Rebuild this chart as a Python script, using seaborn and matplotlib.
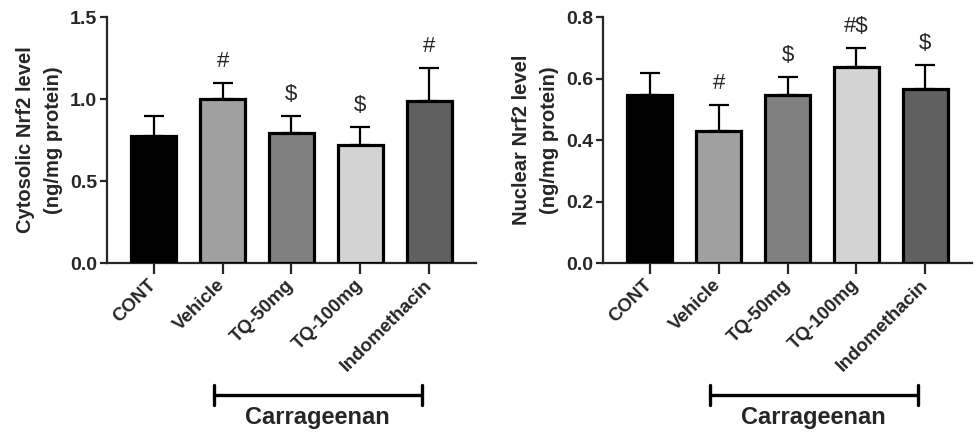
import numpy as np
import pandas as pd
import matplotlib
matplotlib.use("Agg")
import matplotlib.pyplot as plt
import matplotlib.transforms as mtransforms
import seaborn as sns

# data (mean and upper SEM)
groups = ["CONT", "Vehicle", "TQ-50mg", "TQ-100mg", "Indomethacin"]
cyto_mean = [0.776, 1.00, 0.793, 0.72, 0.988]
cyto_sem = [0.118, 0.096, 0.105, 0.107, 0.199]
cyto_sig = ["", "#", "$", "$", "#"]
nuc_mean = [0.546, 0.429, 0.547, 0.638, 0.567]
nuc_sem = [0.073, 0.085, 0.058, 0.060, 0.078]
nuc_sig = ["", "#", "$", "#$", "$"]
bar_colors = ["#000000", "#a0a0a0", "#808080", "#d3d3d3", "#606060"]

sns.set_theme(style="ticks")
plt.rcParams["font.family"] = ["Liberation Sans", "DejaVu Sans"]
plt.rcParams["font.weight"] = "bold"

fig = plt.figure(figsize=(9.75, 4.32), dpi=100)
ax1 = fig.add_axes([0.1097, 0.391, 0.3785, 0.5694])
ax2 = fig.add_axes([0.6185, 0.391, 0.3785, 0.5694])

def draw_panel(ax, means, sems, sig, ylabel, ymax, step):
    df = pd.DataFrame({"group": groups, "value": means})
    sns.barplot(data=df, x="group", y="value", hue="group", palette=bar_colors,
                legend=False, edgecolor="black", linewidth=2.3, width=0.65,
                ax=ax, zorder=3)
    xs = np.arange(len(groups))
    ax.errorbar(xs, means, yerr=[np.zeros(len(sems)), sems], fmt="none",
                ecolor="black", elinewidth=1.6, capsize=7.5, capthick=1.6, zorder=2)
    off = ymax * 0.088
    for x, m, s, t in zip(xs, means, sems, sig):
        if t:
            ax.text(x, m + s + off, t, ha="center", va="center",
                    fontsize=16, fontweight="normal")
    ax.set_xlim(-0.68, 4.68)
    ax.set_ylim(0, ymax)
    ticks = np.arange(0, ymax + 1e-9, step)
    ax.set_yticks(ticks)
    ax.set_yticklabels([f"{v:.1f}" for v in ticks], fontsize=14, fontweight="bold")
    ax.set_xticks(xs)
    ax.set_xticklabels(groups, rotation=45, ha="right", va="center",
                       rotation_mode="anchor", fontsize=13.5, fontweight="bold")
    ax.set_xlabel("")
    ax.set_ylabel(ylabel, fontsize=14.5, fontweight="bold", labelpad=5,
                  linespacing=1.6)
    sns.despine(ax=ax)
    for sp in ["left", "bottom"]:
        ax.spines[sp].set_linewidth(1.6)
    ax.tick_params(axis="y", length=5, width=1.6, pad=2)
    ax.tick_params(axis="x", length=8, width=1.6, pad=6)
    # Carrageenan bracket under the treated groups
    trans = mtransforms.blended_transform_factory(ax.transData, ax.transAxes)
    ax.plot([0.88, 3.9], [-0.537, -0.537], color="black", lw=2.4,
            transform=trans, clip_on=False)
    for xb in [0.88, 3.9]:
        ax.plot([xb, xb], [-0.497, -0.577], color="black", lw=2.4,
                transform=trans, clip_on=False)
    ax.text(2.37, -0.58, "Carrageenan", ha="center", va="top",
            fontsize=17, fontweight="bold", transform=trans)

draw_panel(ax1, cyto_mean, cyto_sem, cyto_sig,
           "Cytosolic Nrf2 level\n(ng/mg protein)", 1.5, 0.5)
draw_panel(ax2, nuc_mean, nuc_sem, nuc_sig,
           "Nuclear Nrf2 level\n(ng/mg protein)", 0.8, 0.2)

fig.savefig("out.png", dpi=100)
